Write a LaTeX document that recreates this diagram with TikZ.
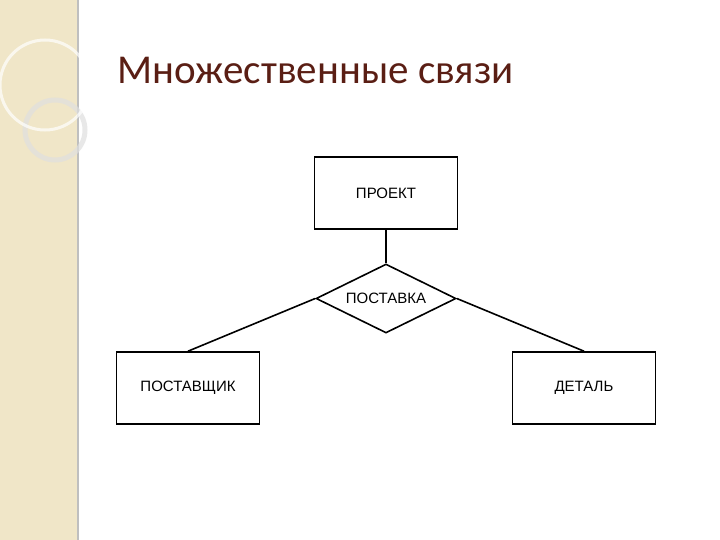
\documentclass[tikz,border=0pt]{standalone}
\usepackage{fontspec}
\setmainfont{Liberation Sans}
\newfontfamily\titlefont{Carlito}
\usetikzlibrary{shapes.geometric}
\definecolor{strip}{RGB}{240,230,200}
\definecolor{titlec}{RGB}{90,30,20}
\tikzset{ent/.style={draw,line width=1.6pt,minimum width=143pt,minimum height=72pt,inner sep=0pt,font=\fontsize{15}{17}\selectfont},
rel/.style={draw,line width=1.6pt,diamond,minimum width=140pt,minimum height=69pt,inner sep=0pt,aspect=2,font=\fontsize{15}{17}\selectfont},
ln/.style={line width=1.6pt}}
\begin{document}
\begin{tikzpicture}[x=1pt,y=-1pt]
\useasboundingbox (0,0) rectangle (720,540);
\fill[white] (0,0) rectangle (720,540);
\fill[strip] (0,0) rectangle (78,540);
\draw[gray!50,line width=1.2pt] (78,0) -- (78,540);
\draw[gray!25,line width=5pt,opacity=0.7] (55,130) circle (30);
\draw[white,line width=3pt,opacity=0.7] (45,85) circle (45);
\node[anchor=west,font=\fontsize{41}{46}\selectfont\titlefont,text=titlec] (t) at (114,70) {Множественные связи};
\node[ent] (p) at (386,193) {ПРОЕКТ};
\node[rel] (s) at (386,298.5) {ПОСТАВКА};
\node[ent] (a) at (188,388) {ПОСТАВЩИК};
\node[ent] (d) at (584,388) {ДЕТАЛЬ};
\draw[ln] (p.south) -- (s.north);
\draw[ln] (s.west) -- (a.north);
\draw[ln] (s.east) -- (d.north);
\end{tikzpicture}
\end{document}
